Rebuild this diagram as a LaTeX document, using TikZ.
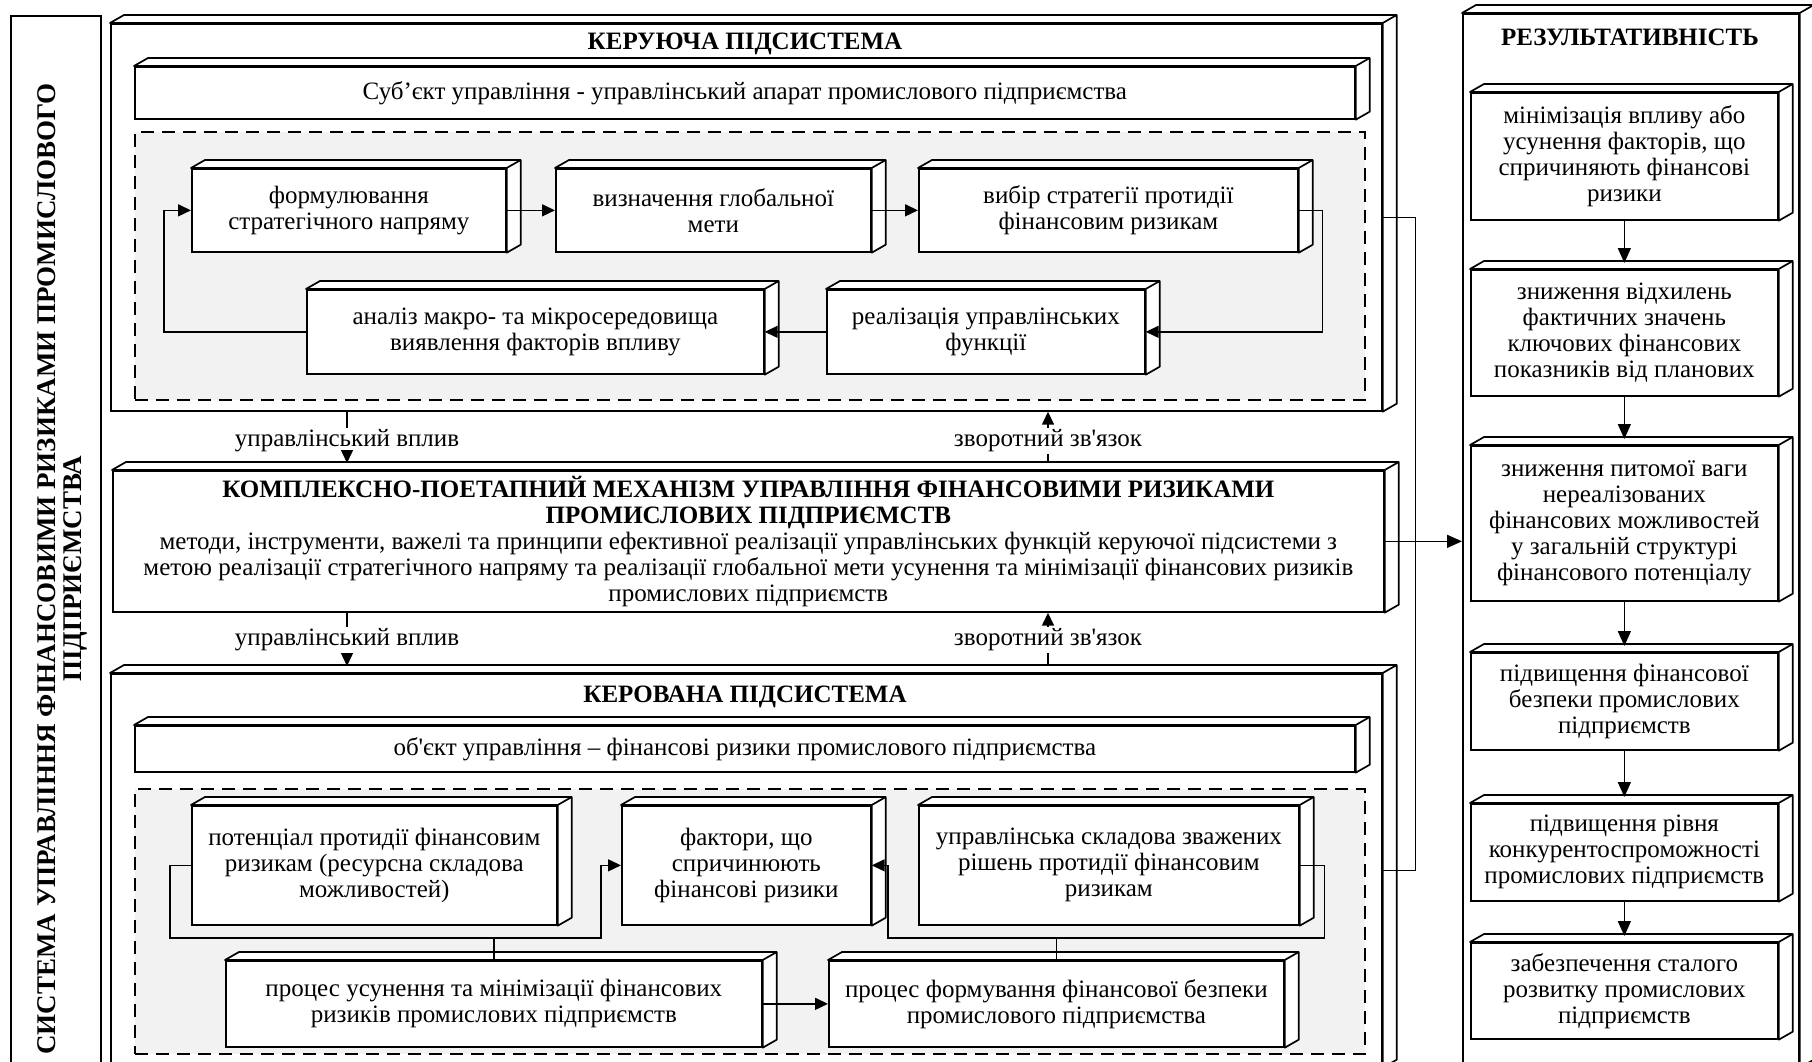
\documentclass[tikz,border=0pt]{standalone}
\usepackage{fontspec}
\setmainfont{Liberation Serif}[Ligatures=TeXOff]
\usepackage{tikz}
\usetikzlibrary{arrows.meta,calc}
\newcommand{\fs}{\fontsize{25}{26}\selectfont}
\newcommand{\boxdepth}[1]{%
  \draw[fill=white, line width=1.7pt, line join=round]
    (#1.north west) -- ++(14,-8) -- ($(#1.north east)+(14,-8)$)
    -- ($(#1.south east)+(14,-8)$) -- (#1.south east)
    -- (#1.north east) -- cycle
    (#1.north east) -- ++(14,-8);}

\begin{document}
\begin{tikzpicture}[x=1pt, y=-1pt,
    every node/.style={font=\fs},
    box/.style={draw, fill=white, line width=1.7pt, align=center, inner sep=2pt, anchor=north west,
        append after command={\pgfextra{\boxdepth{\tikzlastnode}}}},
    zone/.style={draw, fill=black!5, line width=1.8pt, dash pattern=on 13pt off 8pt, anchor=north west},
    head/.style={font=\fs\bfseries},
    lbl/.style={fill=white, inner sep=2pt},
    link/.style={line width=1.5pt},
    arr/.style={line width=1.5pt, -{Triangle[length=13pt, width=12pt]}},
    bigarr/.style={line width=1.5pt, -{Triangle[length=15pt, width=13pt]}}
]
    \useasboundingbox (0,0) rectangle (1812,1062);
    \clip (0,0) rectangle (1812,1062);

    % whole system (left)
    \node[draw, line width=1.7pt, anchor=north west, minimum width=90, minimum height=1055] (sys) at (10,15) {};
    \node[rotate=90, align=center, font=\fontsize{27}{26}\selectfont\bfseries] (systxt) at (62,569)
        {СИСТЕМА УПРАВЛІННЯ ФІНАНСОВИМИ РИЗИКАМИ ПРОМИСЛОВОГО\\ПІДПРИЄМСТВА};

    % керуюча підсистема
    \node[box, minimum width=1271, minimum height=387] (ker) at (110,23) {};
    \node[head] (kert) at (745,44) {КЕРУЮЧА ПІДСИСТЕМА};
    \node[box, minimum width=1220, minimum height=52] (subj) at (134,66)
        {Суб’єкт управління - управлінський апарат промислового підприємства};
    \node[zone, minimum width=1230, minimum height=268] (zone1) at (134,131) {};
    \node[box, minimum width=314, minimum height=83] (b1) at (191,168) {формулювання\\стратегічного напряму};
    \node[box, minimum width=315, minimum height=83] (b2) at (555,168) {визначення глобальної\\мети};
    \node[box, minimum width=379, minimum height=83] (b3) at (918,168) {вибір стратегії протидії\\фінансовим ризикам};
    \node[box, minimum width=457, minimum height=84] (b4) at (306,289) {аналіз макро- та мікросередовища\\виявлення факторів впливу};
    \node[box, minimum width=318, minimum height=84] (b5) at (826,289) {реалізація управлінських\\функції};

    \draw[arr] (b1.east) -- (b2.west);
    \draw[arr] (b2.east) -- (b3.west);
    \draw[arr] (b3.east) -- ++(24,0) |- (b5.east);
    \draw[arr] (b5.west) -- (b4.east);
    \draw[arr] (b4.west) -- ++(-142,0) |- (b1.west);

    % механізм
    \node[box, minimum width=1271, minimum height=141] (mech) at (112,470)
        {\textbf{КОМПЛЕКСНО-ПОЕТАПНИЙ МЕХАНІЗМ УПРАВЛІННЯ ФІНАНСОВИМИ РИЗИКАМИ}\\
         \textbf{ПРОМИСЛОВИХ ПІДПРИЄМСТВ}\\
         методи, інструменти, важелі та принципи ефективної реалізації управлінських функцій керуючої підсистеми з\\
         метою реалізації стратегічного напряму та реалізації глобальної мети усунення та мінімізації фінансових ризиків\\
         промислових підприємств};

    % керована підсистема
    \node[box, minimum width=1271, minimum height=393] (kerv) at (110,673) {};
    \node[head] (kervt) at (745,697) {КЕРОВАНА ПІДСИСТЕМА};
    \node[box, minimum width=1220, minimum height=46] (obj) at (134,725)
        {об'єкт управління – фінансові ризики промислового підприємства};
    \node[zone, minimum width=1230, minimum height=265] (zone2) at (134,788) {};
    \node[box, minimum width=365, minimum height=119] (c1) at (191,805) {потенціал протидії фінансовим\\ризикам (ресурсна складова\\можливостей)};
    \node[box, minimum width=249, minimum height=119] (c2) at (621,805) {фактори, що\\спричинюють\\фінансові ризики};
    \node[box, minimum width=380, minimum height=119] (c3) at (918,805) {управлінська складова зважених\\рішень протидії фінансовим\\ризикам};
    \node[box, minimum width=536, minimum height=86] (c4) at (225,960) {процес усунення та мінімізації фінансових\\ризиків промислових підприємств};
    \node[box, minimum width=455, minimum height=86] (c5) at (828,960) {процес формування фінансової безпеки\\промислового підприємства};

    \coordinate (busl) at (601,938);
    \coordinate (busr) at (888,938);
    \draw[arr] (c1.west) -- ++(-21,0) |- (busl) |- (c2.west);
    \draw[link] (c4.north) -- (c4.north |- busl);
    \draw[arr] (c3.east) -- ++(25,0) |- (busr) |- (c2.east);
    \draw[link] (c5.north) -- (c5.north |- busr);
    \draw[arr] (c4.east) -- (c5.west);

    % вплив та зворотний зв'язок
    \node[lbl] (inf1) at (347,441) {управлінський вплив};
    \node[lbl] (fb1) at (1048,441) {зворотний зв'язок};
    \node[lbl] (inf2) at (347,640) {управлінський вплив};
    \node[lbl] (fb2) at (1048,640) {зворотний зв'язок};
    \draw[link] (inf1) -- (inf1 |- ker.south);
    \draw[arr] (inf1) -- ($(inf1 |- mech.north)+(0,-7)$);
    \draw[arr] (fb1) -- (fb1 |- ker.south);
    \draw[link] ($(fb1 |- mech.north)+(0,-7)$) -- (fb1);
    \draw[link] (inf2) -- (inf2 |- mech.south);
    \draw[arr] (inf2) -- ($(inf2 |- kerv.north)+(0,-7)$);
    \draw[arr] (fb2) -- (fb2 |- mech.south);
    \draw[link] ($(fb2 |- kerv.north)+(0,-7)$) -- (fb2);
    \draw[link] (ker.east) -- ++(33,0) |- (kerv.east);

    % результативність
    \node[box, minimum width=336, minimum height=1053] (res) at (1462,13) {};
    \node[head] (rest) at (1630,37) {РЕЗУЛЬТАТИВНІСТЬ};
    \node[box, minimum width=307, minimum height=127] (r1) at (1470,92) {мінімізація впливу або\\усунення факторів, що\\спричиняють фінансові\\ризики};
    \node[box, minimum width=307, minimum height=126] (r2) at (1470,269) {зниження відхилень\\фактичних значень\\ключових фінансових\\показників від планових};
    \node[box, minimum width=307, minimum height=155] (r3) at (1470,445) {зниження питомої ваги\\нереалізованих\\фінансових можливостей\\у загальній структурі\\фінансового потенціалу};
    \node[box, minimum width=307, minimum height=97] (r4) at (1470,652) {підвищення фінансової\\безпеки промислових\\підприємств};
    \node[box, minimum width=307, minimum height=97] (r5) at (1470,803) {підвищення рівня\\конкурентоспроможності\\промислових підприємств};
    \node[box, minimum width=307, minimum height=96] (r6) at (1470,942) {забезпечення сталого\\розвитку промислових\\підприємств};

    \foreach \a/\b in {r1/r2, r2/r3, r3/r4, r4/r5, r5/r6}
        \draw[bigarr] (\a.south) -- ($(\b.north)+(0,-6)$);
    \draw[bigarr] (mech.east) -- (mech.east -| res.west);

\end{tikzpicture}
\end{document}
